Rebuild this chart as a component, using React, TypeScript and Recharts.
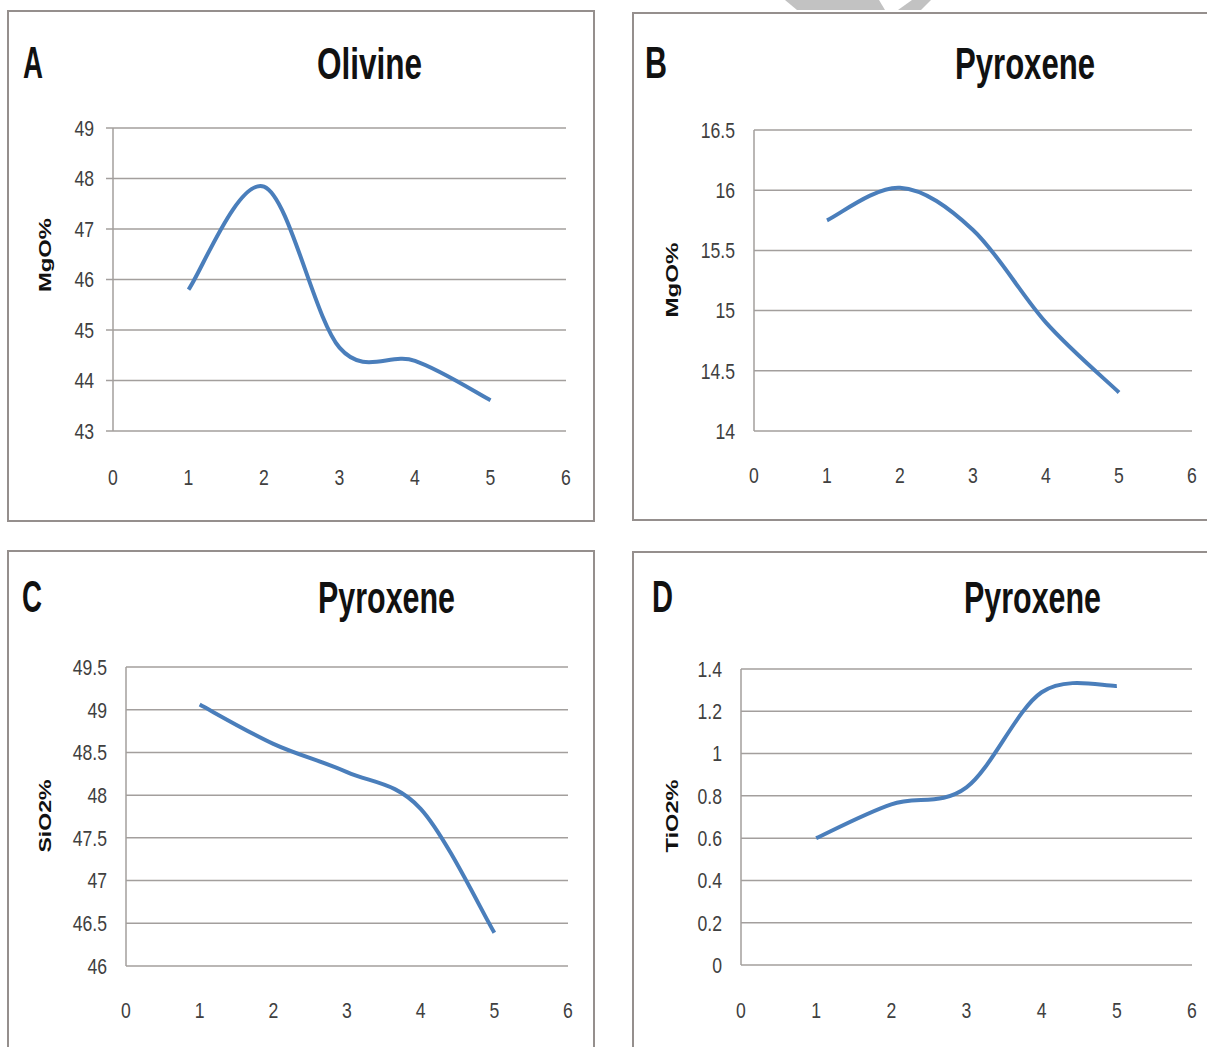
import React from "react";
import { LineChart, Line, XAxis, YAxis, CartesianGrid } from "recharts";

// sample number along the profile
const samples = [1, 2, 3, 4, 5];

const olivineMgO = [45.8, 47.84, 44.65, 44.39, 43.61];
const pyroxeneMgO = [15.75, 16.02, 15.67, 14.9, 14.32];
const pyroxeneSiO2 = [49.06, 48.6, 48.27, 47.84, 46.39];
const pyroxeneTiO2 = [0.6, 0.76, 0.84, 1.29, 1.32];

const xTicks = [0, 1, 2, 3, 4, 5, 6];
const olivineMgOTicks = [43, 44, 45, 46, 47, 48, 49];
const pyroxeneMgOTicks = [14, 14.5, 15, 15.5, 16, 16.5];
const pyroxeneSiO2Ticks = [46, 46.5, 47, 47.5, 48, 48.5, 49, 49.5];
const pyroxeneTiO2Ticks = [0, 0.2, 0.4, 0.6, 0.8, 1, 1.2, 1.4];

const LINE = "#4a7ebb";
const GRID = "#a39f9d";
const FRAME = "#958f8d";
const TICK_TEXT = "#404040";
const NARROW = "'Liberation Sans Narrow', 'Liberation Sans', Arial, sans-serif";

// Excel-style smoothed line (Catmull-Rom through every point)
function excelSmooth(context: any) {
  let pts: number[][] = [];
  return {
    areaStart() {},
    areaEnd() {},
    lineStart() {
      pts = [];
    },
    point(x: number, y: number) {
      pts.push([+x, +y]);
    },
    lineEnd() {
      if (!pts.length) return;
      context.moveTo(pts[0][0], pts[0][1]);
      for (let i = 0; i < pts.length - 1; i++) {
        const p0 = pts[Math.max(i - 1, 0)];
        const p1 = pts[i];
        const p2 = pts[i + 1];
        const p3 = pts[Math.min(i + 2, pts.length - 1)];
        context.bezierCurveTo(
          p1[0] + (p2[0] - p0[0]) / 6,
          p1[1] + (p2[1] - p0[1]) / 6,
          p2[0] - (p3[0] - p1[0]) / 6,
          p2[1] - (p3[1] - p1[1]) / 6,
          p2[0],
          p2[1]
        );
      }
    },
  };
}

// condensed tick text, like the Calibri digits of the original
function NarrowTick(props: any) {
  const { x, y, payload, textAnchor, verticalAnchor } = props;
  const dy = verticalAnchor === "start" ? "0.71em" : "0.355em";
  return (
    <g transform={`translate(${x},${y})`}>
      <text
        transform="scale(0.8,1)"
        textAnchor={textAnchor}
        dy={dy}
        fontFamily="'Liberation Sans', Arial, sans-serif"
        fontSize={22}
        fill={TICK_TEXT}
      >
        {payload.value}
      </text>
    </g>
  );
}

type PanelProps = {
  values: number[];
  yTicks: number[];
  plot: { left: number; top: number; right: number; bottom: number };
  xLabelGap: number;
  yTickLine: boolean;
};

function Panel({ values, yTicks, plot, xLabelGap, yTickLine }: PanelProps) {
  const data = samples.map((x, i) => ({ x, v: values[i] }));
  const padL = 100;
  const padT = 20;
  const padR = 20;
  const xAxisH = 70;
  const w = plot.right - plot.left + padL + padR;
  const h = plot.bottom - plot.top + padT + xAxisH + 10;
  return (
    <div style={{ position: "absolute", left: plot.left - padL, top: plot.top - padT }}>
      <LineChart width={w} height={h} data={data} margin={{ top: padT, right: padR, left: 0, bottom: 10 }}>
        <CartesianGrid vertical={false} stroke={GRID} strokeWidth={1.5} />
        <XAxis
          dataKey="x"
          type="number"
          domain={[0, 6]}
          ticks={xTicks}
          axisLine={false}
          tickLine={false}
          tickSize={0}
          tickMargin={xLabelGap}
          height={xAxisH}
          tick={<NarrowTick />}
          interval={0}
        />
        <YAxis
          type="number"
          domain={[yTicks[0], yTicks[yTicks.length - 1]]}
          ticks={yTicks}
          width={padL}
          axisLine={{ stroke: GRID, strokeWidth: 1.5 }}
          tickLine={yTickLine ? { stroke: GRID, strokeWidth: 1.5 } : false}
          tickSize={7}
          tickMargin={12}
          tick={<NarrowTick />}
          interval={0}
          allowDecimals
        />
        <Line
          type={excelSmooth as any}
          dataKey="v"
          stroke={LINE}
          strokeWidth={4}
          dot={false}
          activeDot={false}
          isAnimationActive={false}
        />
      </LineChart>
    </div>
  );
}

function Frame({ x, y, w, h }: { x: number; y: number; w: number; h: number }) {
  return (
    <div
      style={{
        position: "absolute",
        left: x,
        top: y,
        width: w,
        height: h,
        boxSizing: "border-box",
        border: `2px solid ${FRAME}`,
      }}
    />
  );
}

function Letter({ x, y, text, len }: { x: number; y: number; text: string; len: number }) {
  return (
    <text
      x={x}
      y={y}
      fontFamily={NARROW}
      fontWeight="bold"
      fontSize={45}
      fill="#111"
      textLength={len}
      lengthAdjust="spacingAndGlyphs"
    >
      {text}
    </text>
  );
}

function YLabel({ cx, cy, text, len }: { cx: number; cy: number; text: string; len: number }) {
  const bx = cx + 6;
  return (
    <text
      x={bx}
      y={cy}
      transform={`rotate(-90 ${bx} ${cy})`}
      textAnchor="middle"
      fontFamily="'Liberation Sans', Arial, sans-serif"
      fontWeight="bold"
      fontSize={17}
      fill="#111"
      textLength={len}
      lengthAdjust="spacingAndGlyphs"
    >
      {text}
    </text>
  );
}

export default function App() {
  return (
    <div
      style={{
        position: "absolute",
        left: 0,
        top: 0,
        width: 1207,
        height: 1047,
        overflow: "hidden",
        background: "#fff",
      }}
    >
      <Frame x={7} y={10} w={588} h={512} />
      <Frame x={632} y={12} w={620} h={509} />
      <Frame x={7} y={550} w={588} h={600} />
      <Frame x={632} y={551} w={620} h={600} />

      <Panel
        values={olivineMgO}
        yTicks={olivineMgOTicks}
        plot={{ left: 113, top: 128, right: 566, bottom: 431 }}
        xLabelGap={38}
        yTickLine
      />
      <Panel
        values={pyroxeneMgO}
        yTicks={pyroxeneMgOTicks}
        plot={{ left: 754, top: 130, right: 1192, bottom: 431 }}
        xLabelGap={36}
        yTickLine={false}
      />
      <Panel
        values={pyroxeneSiO2}
        yTicks={pyroxeneSiO2Ticks}
        plot={{ left: 126, top: 667, right: 568, bottom: 966 }}
        xLabelGap={36}
        yTickLine={false}
      />
      <Panel
        values={pyroxeneTiO2}
        yTicks={pyroxeneTiO2Ticks}
        plot={{ left: 741, top: 669, right: 1192, bottom: 965 }}
        xLabelGap={37}
        yTickLine={false}
      />

      <svg
        width={1207}
        height={1047}
        style={{ position: "absolute", left: 0, top: 0, pointerEvents: "none" }}
      >
        <polygon points="785,0 879,0 885,10 797,10" fill="#c2c2c2" />
        <polygon points="912,0 931,0 921,10 898,10" fill="#c2c2c2" />

        <Letter x={23} y={78} text="A" len={20} />
        <Letter x={645} y={78} text="B" len={22} />
        <Letter x={22} y={612} text="C" len={20} />
        <Letter x={652} y={612} text="D" len={21} />

        <Letter x={317} y={79} text="Olivine" len={105} />
        <Letter x={955} y={79} text="Pyroxene" len={140} />
        <Letter x={318} y={613} text="Pyroxene" len={137} />
        <Letter x={964} y={613} text="Pyroxene" len={137} />

        <YLabel cx={45} cy={255} text="MgO%" len={74} />
        <YLabel cx={672} cy={280} text="MgO%" len={75} />
        <YLabel cx={45} cy={816} text="SiO2%" len={73} />
        <YLabel cx={672} cy={816} text="TiO2%" len={73} />
      </svg>
    </div>
  );
}
